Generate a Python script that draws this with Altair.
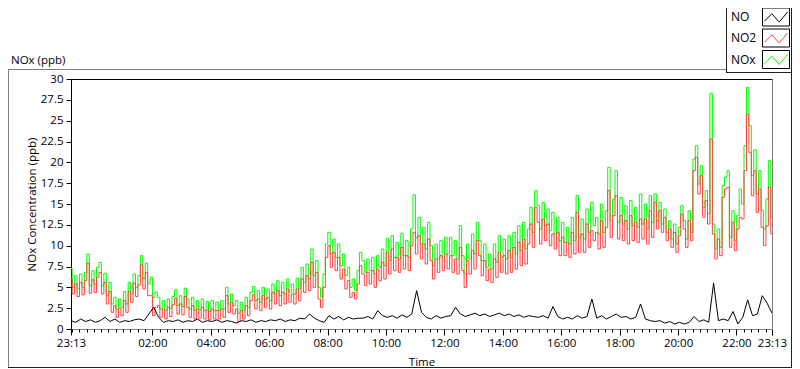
import altair as alt
import pandas as pd

FONT = "Open Sans"
FS = 11.5

# ---------------- data ----------------
# NOx and NO2 read every 5 minutes, NO every 10 minutes, starting 23:13
nox = [
    7.3, 5.0, 6.4, 4.8, 6.6, 5.0, 6.8, 9.0, 5.2, 7.0, 5.4, 7.4,
    8.0, 5.2, 6.7, 4.0, 5.6, 3.0, 3.8, 2.4, 3.6, 2.6, 4.5, 3.0,
    5.6, 4.2, 6.6, 5.0, 6.4, 8.8, 6.0, 7.9, 5.4, 6.2, 3.8, 4.4,
    3.8, 2.4, 3.4, 2.2, 3.6, 2.5, 3.9, 4.7, 2.8, 4.0, 2.7, 4.9,
    3.6, 2.4, 3.8, 2.2, 3.4, 2.3, 3.6, 2.2, 3.3, 2.1, 3.4, 2.2,
    3.2, 2.2, 3.4, 2.4, 5.0, 3.0, 4.2, 2.8, 3.4, 1.9, 3.2, 2.2,
    3.8, 2.6, 4.4, 5.1, 3.4, 4.6, 3.2, 5.0, 3.6, 4.8, 3.4, 5.4,
    4.2, 5.8, 4.0, 5.6, 4.2, 6.0, 4.4, 5.4, 4.2, 6.1, 4.8, 7.4,
    5.6, 7.8, 6.0, 9.6, 6.4, 8.2, 5.0, 3.8, 6.6, 10.2, 11.6, 9.0,
    10.8, 8.6, 10.2, 7.6, 9.0, 6.4, 7.4, 5.0, 6.0, 4.6, 7.0, 9.2,
    8.2, 6.8, 8.4, 7.0, 8.6, 6.6, 8.8, 7.4, 9.6, 7.6, 10.9, 8.2,
    11.2, 8.6, 10.4, 8.4, 11.5, 8.8, 10.6, 8.6, 12.0, 16.1, 11.0, 13.4,
    10.2, 12.2, 9.6, 12.8, 10.0, 7.6, 10.2, 8.4, 10.6, 8.6, 11.0, 9.0,
    11.0, 8.8, 10.6, 8.4, 12.4, 8.8, 6.6, 10.2, 8.4, 11.4, 9.0, 12.8,
    10.6, 8.2, 10.2, 7.4, 9.0, 7.2, 10.2, 8.0, 11.2, 8.6, 10.8, 8.4,
    11.2, 8.6, 11.6, 9.0, 12.4, 9.4, 12.8, 9.6, 12.0, 14.6, 11.6, 16.6,
    14.8, 12.0, 15.2, 12.4, 14.4, 11.8, 14.0, 11.4, 13.4, 10.6, 12.8, 10.4,
    12.2, 10.2, 13.4, 10.6, 16.0, 11.0, 13.2, 10.8, 14.4, 11.6, 15.2, 12.4,
    13.4, 11.4, 15.0, 11.6, 14.2, 19.4, 13.0, 15.6, 19.0, 12.8, 15.8, 12.6,
    14.8, 12.0, 15.4, 12.4, 14.6, 12.2, 16.2, 12.6, 15.0, 12.0, 16.0, 12.8,
    16.2, 13.0, 15.2, 12.6, 14.4, 11.6, 13.0, 10.8, 12.6, 10.2, 12.2, 14.8,
    13.0, 10.8, 14.2, 11.6, 20.4, 22.0, 17.4, 19.6, 14.6, 16.6, 13.8, 28.3,
    12.6, 9.6, 12.0, 9.8, 17.2, 18.2, 19.0, 11.0, 14.2, 10.6, 13.6, 16.8,
    15.0, 22.0, 29.0, 24.4, 18.4, 21.5, 16.2, 19.0, 14.2, 12.0, 15.6, 20.2,
    13.4,
]
no2 = [
    6.0, 4.2, 5.4, 3.9, 5.6, 4.1, 5.8, 7.9, 4.3, 5.9, 4.4, 6.2,
    6.8, 4.2, 5.6, 3.0, 4.5, 2.0, 2.8, 1.4, 2.5, 1.6, 3.4, 2.0,
    4.5, 3.2, 5.5, 3.9, 5.3, 7.7, 4.8, 6.8, 4.0, 4.0, 1.6, 2.6,
    2.8, 1.4, 2.4, 1.2, 2.6, 1.5, 2.9, 3.7, 1.8, 3.0, 1.7, 3.9,
    2.6, 1.4, 2.8, 1.2, 2.4, 1.3, 2.6, 1.2, 2.3, 1.1, 2.4, 1.2,
    2.2, 1.2, 2.4, 1.4, 4.0, 2.0, 3.2, 1.8, 2.4, 0.9, 2.2, 1.2,
    2.8, 1.6, 3.4, 4.1, 2.4, 3.6, 2.2, 4.0, 2.6, 3.8, 2.4, 4.4,
    3.0, 4.6, 2.8, 4.4, 3.0, 4.8, 3.2, 4.2, 3.0, 4.8, 3.4, 6.0,
    4.4, 6.4, 4.6, 8.0, 5.0, 6.8, 3.6, 2.6, 5.0, 8.6, 10.0, 7.4,
    9.2, 7.0, 8.6, 6.0, 7.2, 4.8, 5.8, 3.8, 4.4, 3.6, 5.4, 7.6,
    6.6, 5.2, 6.8, 5.4, 7.0, 5.0, 7.2, 5.8, 8.0, 6.0, 9.2, 6.6,
    9.6, 7.0, 8.6, 6.8, 9.8, 7.2, 8.8, 7.0, 10.0, 11.6, 9.0, 11.2,
    8.4, 10.2, 7.8, 10.8, 8.2, 6.0, 8.4, 6.8, 8.8, 7.0, 9.0, 7.2,
    8.8, 6.8, 8.4, 6.6, 9.8, 7.0, 5.0, 8.2, 6.6, 9.4, 7.2, 10.6,
    8.8, 6.4, 8.2, 5.8, 7.2, 5.6, 8.4, 6.2, 9.2, 6.8, 8.8, 6.6,
    9.4, 6.8, 9.8, 7.2, 10.4, 7.6, 10.8, 7.8, 10.2, 12.6, 9.8, 14.6,
    12.8, 10.2, 13.2, 10.6, 12.6, 10.0, 11.4, 9.6, 11.6, 8.8, 11.0, 8.8,
    10.4, 8.6, 11.6, 9.0, 14.0, 9.2, 11.4, 9.2, 12.6, 9.8, 11.8, 10.6,
    11.6, 9.6, 13.0, 9.8, 12.2, 16.6, 11.0, 13.6, 16.0, 10.8, 13.6, 10.6,
    13.0, 10.2, 13.6, 10.6, 12.8, 10.4, 13.2, 10.8, 13.2, 10.2, 14.2, 11.0,
    15.2, 12.0, 14.2, 11.6, 13.4, 10.6, 12.0, 9.8, 11.6, 9.2, 11.2, 13.8,
    12.0, 9.8, 13.0, 10.6, 19.0, 20.6, 16.2, 18.4, 13.4, 15.4, 12.6, 22.8,
    11.4, 8.4, 10.8, 8.8, 15.8, 16.8, 17.0, 9.8, 12.8, 9.4, 12.0, 13.4,
    13.2, 19.0, 25.8, 21.2, 16.0, 19.0, 14.0, 16.8, 12.2, 10.0, 12.4, 17.0,
    11.4,
]
no = [
    1.0, 0.8, 1.2, 0.9, 1.1, 0.8,
    1.0, 1.4, 0.9, 1.2, 0.8, 1.0,
    0.9, 1.1, 1.2, 1.0, 1.8, 2.6,
    1.4, 0.8, 1.0, 0.9, 1.1, 0.8,
    1.0, 0.9, 1.2, 0.8, 1.0, 0.9,
    1.1, 0.8, 1.0, 0.9, 0.7, 1.0,
    0.9, 1.1, 0.8, 1.0, 0.9, 1.1,
    1.0, 1.2, 0.9, 1.1, 1.0, 1.3,
    1.2, 1.8, 1.3, 1.0, 0.8, 1.6,
    1.2, 1.5, 1.1, 1.4, 1.2, 1.3,
    1.3, 1.5, 1.2, 2.2, 1.6, 1.4,
    1.6, 1.3, 1.7, 1.4, 1.8, 4.6,
    2.0, 1.4, 1.2, 1.6, 1.3, 1.5,
    1.6, 2.6, 1.8, 1.5, 1.7, 1.9,
    1.6, 1.8, 1.5, 1.7, 1.9, 1.6,
    1.8, 1.5, 1.7, 1.4, 1.6, 1.5,
    1.4, 1.6, 1.3, 2.7, 1.5, 1.2,
    1.4, 1.2, 1.6, 1.3, 1.5, 3.6,
    1.3, 1.6, 1.2, 1.5, 1.8, 1.4,
    1.5, 1.2, 1.4, 3.0, 1.2, 1.0,
    0.9, 1.0, 0.7, 0.9, 0.6, 0.8,
    0.6, 0.8, 1.5, 0.9, 1.1, 0.8,
    5.5, 1.0, 1.2, 1.0, 2.1, 0.6,
    1.4, 3.5, 1.6, 1.8, 4.0, 3.1,
    1.9,
]

series_names = ["NO", "NO2", "NOx"]
series_colors = ["#000000", "#ff4040", "#00ff00"]

y_ticks = [0, 2.5, 5, 7.5, 10, 12.5, 15, 17.5, 20, 22.5, 25, 27.5, 30]
# minutes after 23:13
major_ticks = [0, 167, 287, 407, 527, 647, 767, 887, 1007, 1127, 1247, 1367, 1440]
major_labels = ["23:13", "02:00", "04:00", "06:00", "08:00", "10:00", "12:00",
                "14:00", "16:00", "18:00", "20:00", "22:00", "23:13"]
minor_ticks = list(range(2, 1441, 15))  # quarter hours

# ---------------- layout ----------------
W, H = 701, 250
PAD = {"left": 63, "top": 71, "right": 20, "bottom": 39}

df_fast = pd.DataFrame({"t": [i * 5 for i in range(len(nox))], "NOx": nox, "NO2": no2})
df_no = pd.DataFrame({"t": [i * 10 for i in range(len(no))], "NO": no})
one = pd.DataFrame({"k": [0]})

xs = alt.Scale(domain=[0, 1440], nice=False, zero=False)
ys = alt.Scale(domain=[0, 30], nice=False, zero=True)

label_expr = " : ".join(f"datum.value == {v} ? '{l}'" for v, l in zip(major_ticks, major_labels)) + " : ''"

major_axis = alt.Axis(
    orient="bottom", values=major_ticks, labelExpr=label_expr, tickSize=6,
    tickColor="#000000", domainColor="#808080", labelFont=FONT, labelFontSize=FS,
    labelColor="#000000", labelPadding=2, labelFlush=False, labelOverlap=False,
    grid=False, title="Time", titleFont=FONT, titleFontSize=FS,
    titleFontWeight="normal", titleColor="#000000", titleX=350.5, titleY=36,
    titleBaseline="alphabetic", titleAlign="center",
)
minor_axis = alt.Axis(
    orient="bottom", values=minor_ticks, labels=False, tickSize=3,
    tickColor="#000000", domain=False, grid=False, title=None,
)
y_axis = alt.Axis(
    orient="left", values=y_ticks, format=".1~f", tickSize=5, tickColor="#000000",
    domainColor="#000000", labelFont=FONT, labelFontSize=FS, labelColor="#000000",
    labelPadding=3, grid=False, title="NOx Concentration (ppb)", titleFont=FONT,
    titleFontSize=FS, titleFontWeight="normal", titleColor="#000000",
    titleX=-39, titleY=125, titleAngle=270, titleBaseline="middle", titleAlign="center",
)

nox_line = alt.Chart(df_fast).mark_line(
    color=series_colors[2], strokeWidth=1, interpolate="step").encode(
    x=alt.X("t:Q", scale=xs, axis=major_axis),
    y=alt.Y("NOx:Q", scale=ys, axis=y_axis),
)
no2_line = alt.Chart(df_fast).mark_line(
    color=series_colors[1], strokeWidth=1, interpolate="step").encode(
    x=alt.X("t:Q", scale=xs, axis=minor_axis),
    y=alt.Y("NO2:Q", scale=ys, axis=None),
)
no_line = alt.Chart(df_no).mark_line(
    color=series_colors[0], strokeWidth=1).encode(
    x=alt.X("t:Q", scale=xs, axis=None),
    y=alt.Y("NO:Q", scale=ys, axis=None),
)


def hrule(x1, x2, y, color):
    return alt.Chart(one).mark_rule(color=color, strokeWidth=1).encode(
        x=alt.value(x1), x2=alt.value(x2), y=alt.value(y))


def vrule(x, y1, y2, color):
    return alt.Chart(one).mark_rule(color=color, strokeWidth=1).encode(
        x=alt.value(x), y=alt.value(y1), y2=alt.value(y2))


RIGHT = 720.5   # outer frame right edge (plot coords)
LEG_L = 655.5   # legend box left edge
deco = [
    hrule(0, W, 0.5, "#000000"),            # plot top
    vrule(W + 0.5, 0, H, "#808080"),        # plot right
    hrule(-63, LEG_L, -9.5, "#808080"),     # frame top
    vrule(-62.5, -10, 289, "#808080"),      # frame left
    hrule(-63, RIGHT, 288.5, "#202020"),    # frame bottom
    vrule(RIGHT, -79, 289, "#202020"),      # frame right
    vrule(LEG_L, -79, -6, "#202020"),       # legend left
    hrule(LEG_L, RIGHT, -6.5, "#202020"),   # legend bottom
]

title_txt = alt.Chart(one).mark_text(
    text="NOx (ppb)", font=FONT, fontSize=FS, align="left", baseline="alphabetic",
    color="#000000").encode(x=alt.value(-60), y=alt.value(-15))

zig = "M-0.96,0.35L-0.35,-0.27L0.27,0.42L0.96,-0.42"
legend_layers = []
row_y = [-62, -41, -19.5]
for name, col, cy in zip(series_names, series_colors, row_y):
    legend_layers.append(alt.Chart(one).mark_text(
        text=name, font=FONT, fontSize=FS + 0.5, align="left", baseline="middle",
        color="#000000").encode(x=alt.value(660), y=alt.value(cy)))
    legend_layers.append(alt.Chart(one).mark_rect(
        fill="#ffffff", stroke="#000000", strokeWidth=1).encode(
        x=alt.value(691.5), x2=alt.value(718.5),
        y=alt.value(cy - 9), y2=alt.value(cy + 9)))
    legend_layers.append(alt.Chart(one).mark_point(
        shape=zig, filled=False, stroke=col, strokeWidth=1, size=576, opacity=1).encode(
        x=alt.value(705), y=alt.value(cy)))

chart = alt.layer(
    nox_line, no2_line, no_line, *deco, title_txt, *legend_layers
).resolve_axis(x="independent", y="independent").properties(
    width=W, height=H, padding=PAD,
    autosize=alt.AutoSizeParams(type="none"), background="white",
).configure_view(strokeWidth=0)

chart.save("out.html", embed_options={"renderer": "svg", "actions": False})
